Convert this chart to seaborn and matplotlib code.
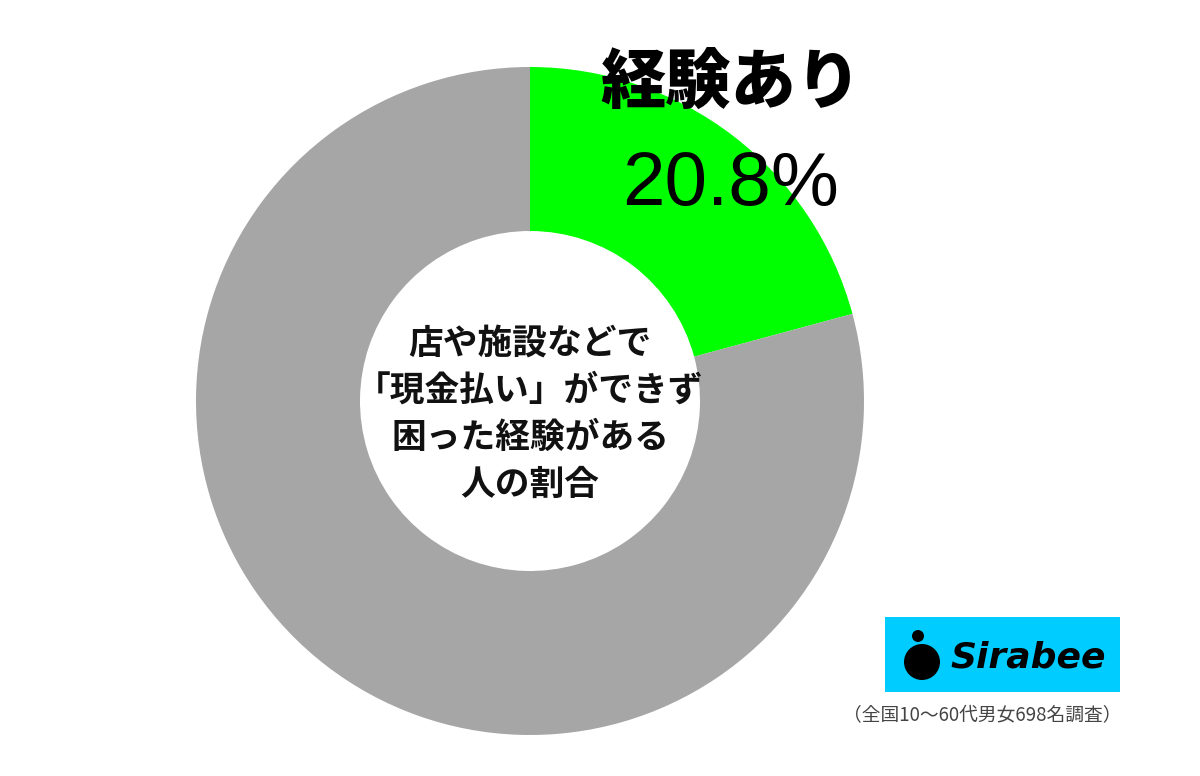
import matplotlib
matplotlib.use("Agg")
from matplotlib import pyplot as plt
from matplotlib.patches import Rectangle, Circle
import seaborn as sns

labels = ["経験あり", "経験なし"]
shares = [20.8, 79.2]
colors = ["#00ff00", "#a6a6a6"]
center_lines = ["店や施設などで", "「現金払い」ができず", "困った経験がある", "人の割合"]
note = "（全国10〜60代男女698名調査）"

sns.set_theme(style="white")
plt.rcParams["font.family"] = ["Noto Sans CJK JP", "DejaVu Sans"]

W, H = 1200, 776
fig = plt.figure(figsize=(12, 7.76), dpi=100)
ax = fig.add_axes([0, 0, 1, 1])

cx, cy, r_out = 530, H - 401, 334
ax.pie(shares, colors=colors, startangle=90, counterclock=False,
       center=(cx, cy), radius=r_out, frame=True,
       wedgeprops=dict(width=r_out - 170, linewidth=0))
ax.set_xlim(0, W)
ax.set_ylim(0, H)
ax.set_aspect("equal")
ax.axis("off")

# label for the highlighted slice
ax.text(731, H - 84, labels[0], fontsize=47, fontweight="black",
        ha="center", va="center", color="black")
ax.text(731, H - 185, f"{shares[0]}%", fontsize=55,
        family=["Liberation Sans", "DejaVu Sans"],
        ha="center", va="center", color="black")

# text in the hole
for i, line in enumerate(center_lines):
    ax.text(cx, H - 343 - 47 * i, line, fontsize=25, fontweight="bold",
            ha="center", va="center", color="#111111")

# logo
ax.add_patch(Rectangle((885, H - 692), 235, 75, color="#00ccff", lw=0))
ax.add_patch(Circle((922, H - 662), 18, color="black", lw=0))
ax.add_patch(Circle((918, H - 636), 6, color="black", lw=0))
ax.text(950, H - 657, "Sirabee", fontsize=26, fontweight="bold", style="italic",
        family=["DejaVu Sans"], ha="left", va="center", color="black")

ax.text(1121, H - 716, note, fontsize=13.5, ha="right", va="center", color="#444444")

fig.savefig("out.png", dpi=100)
